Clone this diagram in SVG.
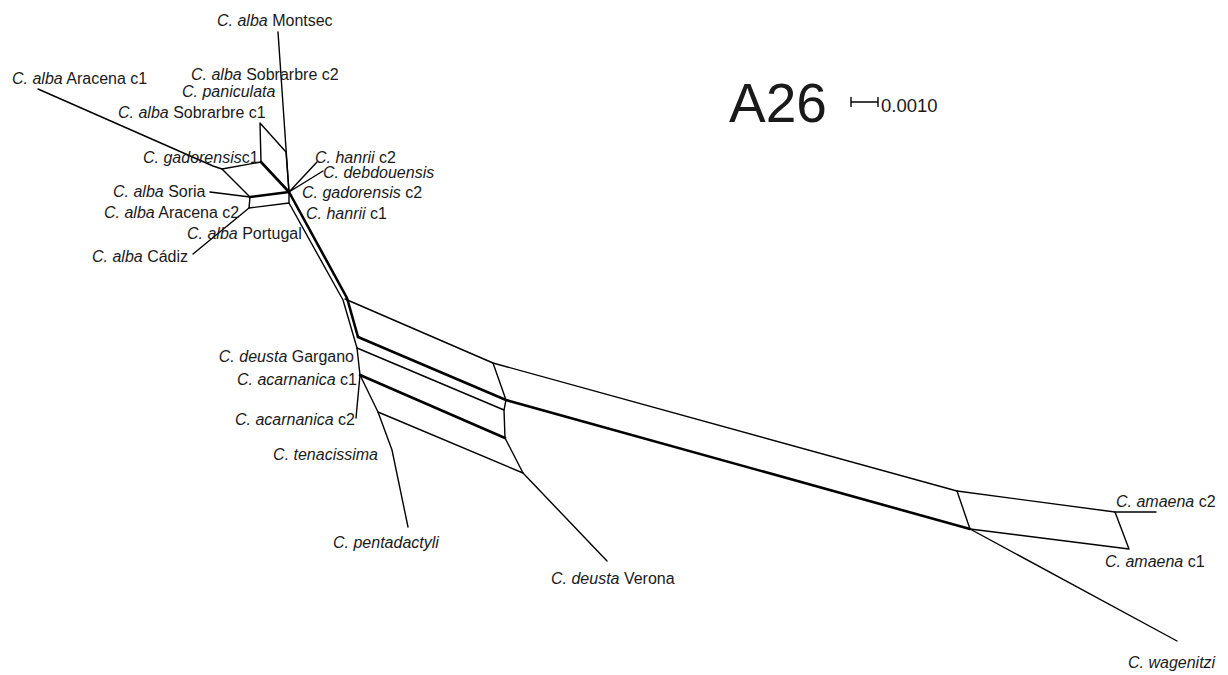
<svg xmlns="http://www.w3.org/2000/svg" width="1228" height="675" viewBox="0 0 1228 675">
<style>
.e{fill:none;stroke:#000;stroke-width:1.4;stroke-linejoin:round;stroke-linecap:round}
.t{stroke-width:2.6}
text{font-family:"Liberation Sans",Arial,sans-serif;font-size:16px;fill:#1a1a1a}
.i{font-style:italic}
.end{text-anchor:end}
</style>
<rect width="1228" height="675" fill="#fff"/>
<g id="connectors">
<!-- left cluster -->
<path class="e" d="M278,32 L289,192"/>
<path class="e" d="M260,123 L261,162 M260,123 L286,152 L289,192"/>
<path class="e t" d="M261,162 L289,192"/>
<path class="e" d="M38,89 L213,166 L222,169 L261,162"/>
<path class="e" d="M222,169 L250,197"/>
<path class="e" d="M210,192 L250,197"/>
<path class="e t" d="M250,197 L289,192"/>
<path class="e" d="M250,197 L249,208 L289,203 L289,192"/>
<path class="e" d="M249,208 L193,254"/>
<path class="e" d="M289,192 L317,162 M289,192 L323,171"/>
<!-- double line to lower group -->
<path class="e t" d="M289,192 L347,298 L358,337"/>
<path class="e" d="M289,203 L343,300 L357,348"/>
<!-- lower left group -->
<path class="e" d="M345,299 L493,363 L957,491"/>
<path class="e t" d="M358,337 L506,400 L970,529"/>
<path class="e" d="M357,348 L504,410"/>
<path class="e" d="M357,348 L360,375 L356,418"/>
<path class="e t" d="M360,375 L505,438"/>
<path class="e" d="M360,375 L378,412 L523,473"/>
<path class="e" d="M378,412 L392,450 L408,527"/>
<path class="e" d="M493,363 L506,400 L504,410 L505,438 L523,473 L607,561"/>
<!-- right group -->
<path class="e" d="M957,491 L970,529"/>
<path class="e" d="M957,491 L1115,512 L1129,549 L970,529"/>
<path class="e" d="M1115,512 L1156,512"/>
<path class="e" d="M970,529 L1177,641"/>
<!-- scale bar -->
<path class="e" d="M851,102 L878,102 M851,97.5 L851,106.5 M878,97.5 L878,106.5"/>
</g>
<g id="labels">
<g id="n-montsec"><text x="217" y="26"><tspan class="i">C. alba</tspan> Montsec</text></g>
<g id="n-sobrarbre-c2"><text x="191" y="80"><tspan class="i">C. alba</tspan> Sobrarbre c2</text></g>
<g id="n-paniculata"><text x="182" y="97" class="i">C. paniculata</text></g>
<g id="n-aracena-c1"><text x="12" y="84"><tspan class="i">C. alba</tspan> Aracena c1</text></g>
<g id="n-sobrarbre-c1"><text x="118" y="118"><tspan class="i">C. alba</tspan> Sobrarbre c1</text></g>
<g id="n-gadorensis-c1"><text x="143" y="163"><tspan class="i">C. gadorensis</tspan>c1</text></g>
<g id="n-hanrii-c2"><text x="315" y="163"><tspan class="i">C. hanrii</tspan> c2</text></g>
<g id="n-debdouensis"><text x="323" y="178" class="i">C. debdouensis</text></g>
<g id="n-soria"><text x="113" y="197"><tspan class="i">C. alba</tspan> Soria</text></g>
<g id="n-gadorensis-c2"><text x="302" y="198"><tspan class="i">C. gadorensis</tspan> c2</text></g>
<g id="n-aracena-c2"><text x="104" y="218"><tspan class="i">C. alba</tspan> Aracena c2</text></g>
<g id="n-hanrii-c1"><text x="306" y="219"><tspan class="i">C. hanrii</tspan> c1</text></g>
<g id="n-portugal"><text x="187" y="239"><tspan class="i">C. alba</tspan> Portugal</text></g>
<g id="n-cadiz"><text x="92" y="262"><tspan class="i">C. alba</tspan> Cádiz</text></g>
<g id="n-gargano"><text x="354" y="362" class="end"><tspan class="i">C. deusta</tspan> Gargano</text></g>
<g id="n-acarnanica-c1"><text x="357" y="385" class="end"><tspan class="i">C. acarnanica</tspan> c1</text></g>
<g id="n-acarnanica-c2"><text x="355" y="425" class="end"><tspan class="i">C. acarnanica</tspan> c2</text></g>
<g id="n-tenacissima"><text x="378" y="460" class="end i">C. tenacissima</text></g>
<g id="n-pentadactyli"><text x="333" y="548" class="i">C. pentadactyli</text></g>
<g id="n-verona"><text x="551" y="584"><tspan class="i">C. deusta</tspan> Verona</text></g>
<g id="n-amaena-c2"><text x="1116" y="507"><tspan class="i">C. amaena</tspan> c2</text></g>
<g id="n-amaena-c1"><text x="1105" y="567"><tspan class="i">C. amaena</tspan> c1</text></g>
<g id="n-wagenitzi"><text x="1128" y="668" class="i">C. wagenitzi</text></g>
<g id="title"><text x="729" y="122" style="font-size:55px">A26</text></g>
<g id="scale"><text x="881" y="112" style="font-size:18.5px">0.0010</text></g>
</g>
</svg>
